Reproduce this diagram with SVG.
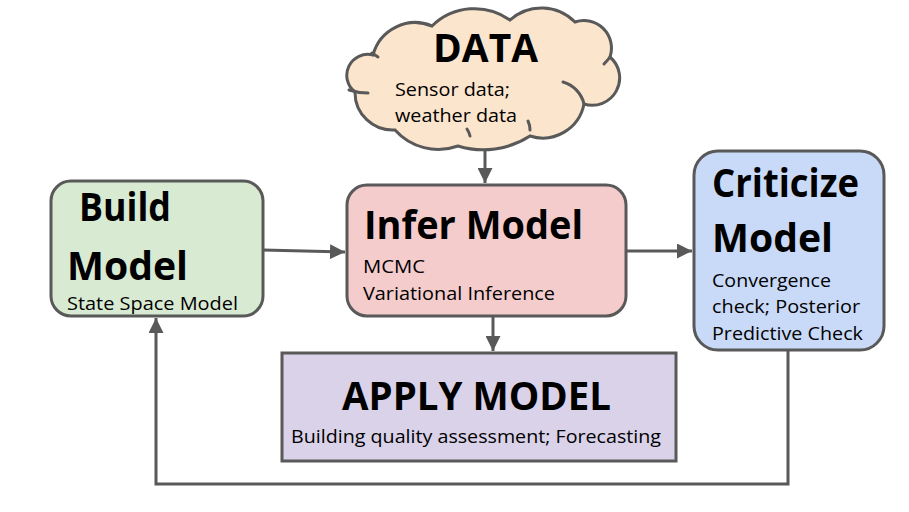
<svg xmlns="http://www.w3.org/2000/svg" width="909" height="512" viewBox="0 0 909 512">
<style>
.box{stroke:#595959;stroke-width:3}
.t{font-family:"Open Sans","Liberation Sans",sans-serif;fill:#000}
.h{font-weight:bold;font-size:39px}
.s{font-size:19px}
.c{fill:none;stroke:#595959;stroke-width:3}
.in{fill:none;stroke:#595959;stroke-width:3;stroke-linecap:round}
</style>
<defs>
<marker id="ah" viewBox="0 0 10 10" refX="10" refY="5" markerWidth="5" markerHeight="5" markerUnits="strokeWidth" orient="auto">
<path d="M0,0 L10,5 L0,10 z" fill="#595959"/>
</marker>
</defs>
<rect width="909" height="512" fill="#fff"/>
<g id="connectors">
<path class="c" d="M263,250 L345,252" marker-end="url(#ah)"/>
<path class="c" d="M626,251 L692,251" marker-end="url(#ah)"/>
<path class="c" d="M485,149 L485,183" marker-end="url(#ah)"/>
<path class="c" d="M493,316 L493,351" marker-end="url(#ah)"/>
<path class="c" d="M788,350 L788,484 L156,484 L156,318" marker-end="url(#ah)"/>
</g>
<g id="data">
<path class="box" fill="#fce5cd" d="M373,55 A43.5,43.5 0 0 1 432,26 A61,61 0 0 1 510,20 A47,47 0 0 1 575,22 A27.6,27.6 0 0 1 610,57 A27.4,27.4 0 0 1 584,104 A42,42 0 0 1 530,136 A86,86 0 0 1 458,146 A58,58 0 0 1 395,130 A37.7,37.7 0 0 1 355,92 A21,21 0 0 1 373,55 Z"/>
<path class="in" d="M372,53 Q375,55 378,57"/>
<path class="in" d="M349,90 Q358,93 368,93"/>
<path class="in" d="M563,82 A30,30 0 0 1 584,104"/>
<path class="in" d="M604,64 Q608,60 610,57"/>
<path class="in" d="M528,121 Q530,125 530,130"/>
<path class="in" d="M467,129 Q469,132 470,136"/>
<text class="t h" x="433" y="62" textLength="105" lengthAdjust="spacingAndGlyphs">DATA</text>
<text class="t s" x="395" y="96" textLength="115" lengthAdjust="spacingAndGlyphs">Sensor data;</text>
<text class="t s" x="395" y="122" textLength="122" lengthAdjust="spacingAndGlyphs">weather data</text>
</g>
<g id="build">
<rect class="box" fill="#d9ead3" x="51" y="181" width="212" height="135" rx="20"/>
<text class="t h" x="79" y="221" textLength="92" lengthAdjust="spacingAndGlyphs">Build</text>
<text class="t h" x="67" y="280" textLength="121" lengthAdjust="spacingAndGlyphs">Model</text>
<text class="t s" x="67" y="310" textLength="171" lengthAdjust="spacingAndGlyphs">State Space Model</text>
</g>
<g id="infer">
<rect class="box" fill="#f4cccc" x="347" y="185" width="279" height="131" rx="20"/>
<text class="t h" x="364" y="239" textLength="219" lengthAdjust="spacingAndGlyphs">Infer Model</text>
<text class="t s" x="363" y="273" textLength="62" lengthAdjust="spacingAndGlyphs">MCMC</text>
<text class="t s" x="363" y="300" textLength="192" lengthAdjust="spacingAndGlyphs">Variational Inference</text>
</g>
<g id="criticize">
<rect class="box" fill="#c9daf8" x="694" y="151" width="190" height="199" rx="24"/>
<text class="t h" x="712" y="197" textLength="147" lengthAdjust="spacingAndGlyphs">Criticize</text>
<text class="t h" x="712" y="252" textLength="121" lengthAdjust="spacingAndGlyphs">Model</text>
<text class="t s" x="712" y="287" textLength="119" lengthAdjust="spacingAndGlyphs">Convergence</text>
<text class="t s" x="712" y="313" textLength="148" lengthAdjust="spacingAndGlyphs">check; Posterior</text>
<text class="t s" x="712" y="340" textLength="151" lengthAdjust="spacingAndGlyphs">Predictive Check</text>
</g>
<g id="apply">
<rect class="box" fill="#d9d2e9" x="282" y="353" width="394" height="108"/>
<text class="t h" x="342" y="410" textLength="269" lengthAdjust="spacingAndGlyphs">APPLY MODEL</text>
<text class="t s" x="291" y="443" textLength="370" lengthAdjust="spacingAndGlyphs">Building quality assessment; Forecasting</text>
</g>
</svg>
